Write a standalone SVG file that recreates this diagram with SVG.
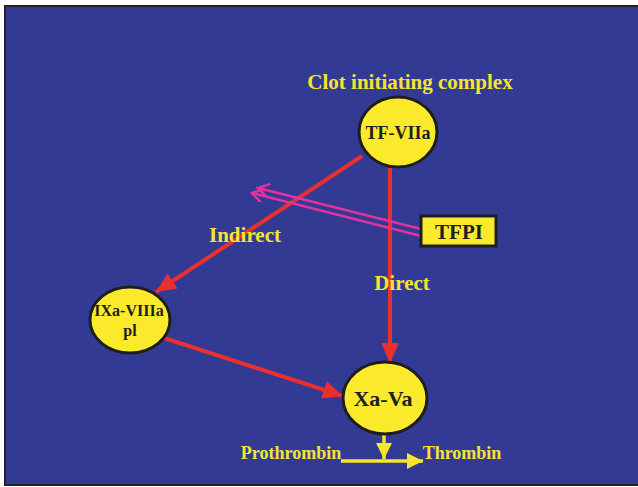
<svg xmlns="http://www.w3.org/2000/svg" width="638" height="487" viewBox="0 0 638 487">
  <style>
    .lbl { font-family: "Liberation Serif", "Times New Roman", serif; font-weight: bold; fill: #f4e531; text-anchor: middle; }
    .node ellipse { fill: #fbe92c; stroke: #1e1e1e; stroke-width: 3; }
    .ntxt { font-family: "Liberation Serif", "Times New Roman", serif; font-weight: bold; fill: #1e1e1e; text-anchor: middle; }
    .red { stroke: #e8302f; stroke-width: 4; fill: none; }
    .pink { stroke: #e4329c; stroke-width: 2.5; fill: none; }
    .yel { stroke: #f7e62a; stroke-width: 3.5; fill: none; }
  </style>
  <defs>
    <marker id="redHead" markerUnits="userSpaceOnUse" markerWidth="22" markerHeight="20" refX="20" refY="9" orient="auto">
      <path d="M0,0 L20,9 L0,18 Z" fill="#e8302f"/>
    </marker>
    <marker id="pinkHead" markerUnits="userSpaceOnUse" markerWidth="16" markerHeight="16" refX="12" refY="7" orient="auto">
      <path d="M1,0 L12,7 L1,14" fill="none" stroke="#e4329c" stroke-width="2.5"/>
    </marker>
    <marker id="yelHead" markerUnits="userSpaceOnUse" markerWidth="18" markerHeight="18" refX="16" refY="8" orient="auto">
      <path d="M0,0 L16,8 L0,16 Z" fill="#f7e62a"/>
    </marker>
  </defs>

  <!-- slide background -->
  <rect x="0" y="0" width="638" height="487" fill="#ffffff"/>
  <rect x="5" y="6" width="640" height="479" fill="#323a93" stroke="#222222" stroke-width="2"/>

  <!-- connectors -->
  <g id="connectors">
    <line class="red" x1="362" y1="156" x2="156" y2="292" marker-end="url(#redHead)"/>
    <line class="red" x1="390" y1="168" x2="390" y2="363" marker-end="url(#redHead)"/>
    <line class="red" x1="161" y1="337" x2="343" y2="396" marker-end="url(#redHead)"/>
    <line class="pink" x1="421" y1="229" x2="258" y2="188" marker-end="url(#pinkHead)"/>
    <line class="pink" x1="421" y1="236" x2="252" y2="193" marker-end="url(#pinkHead)"/>
    <line class="yel" x1="384" y1="433" x2="384" y2="459" marker-end="url(#yelHead)"/>
    <line class="yel" x1="341" y1="461" x2="423" y2="461" marker-end="url(#yelHead)"/>
  </g>

  <!-- captions, drawn over the lines -->
  <text class="lbl" x="410" y="89" font-size="21">Clot initiating complex</text>
  <text class="lbl" x="245" y="242" font-size="21">Indirect</text>
  <text class="lbl" x="402" y="290" font-size="21">Direct</text>
  <text class="lbl" x="291" y="459" font-size="18">Prothrombin</text>
  <text class="lbl" x="462" y="459" font-size="18">Thrombin</text>

  <!-- nodes -->
  <g id="tf-viia" class="node">
    <ellipse cx="398" cy="132" rx="39" ry="35"/>
    <text class="ntxt" x="398" y="139" font-size="18">TF-VIIa</text>
  </g>
  <g id="ixa-viiia" class="node">
    <ellipse cx="130" cy="320" rx="40" ry="33"/>
    <text class="ntxt" x="129" y="316" font-size="16">IXa-VIIIa</text>
    <text class="ntxt" x="130" y="336" font-size="16">pl</text>
  </g>
  <g id="xa-va" class="node">
    <ellipse cx="385" cy="398" rx="42" ry="36"/>
    <text class="ntxt" x="383" y="406" font-size="22">Xa-Va</text>
  </g>
  <g id="tfpi">
    <rect x="421" y="216" width="75" height="30" fill="#fbe92c" stroke="#1e1e1e" stroke-width="3"/>
    <text class="ntxt" x="459" y="239" font-size="21">TFPI</text>
  </g>
</svg>
